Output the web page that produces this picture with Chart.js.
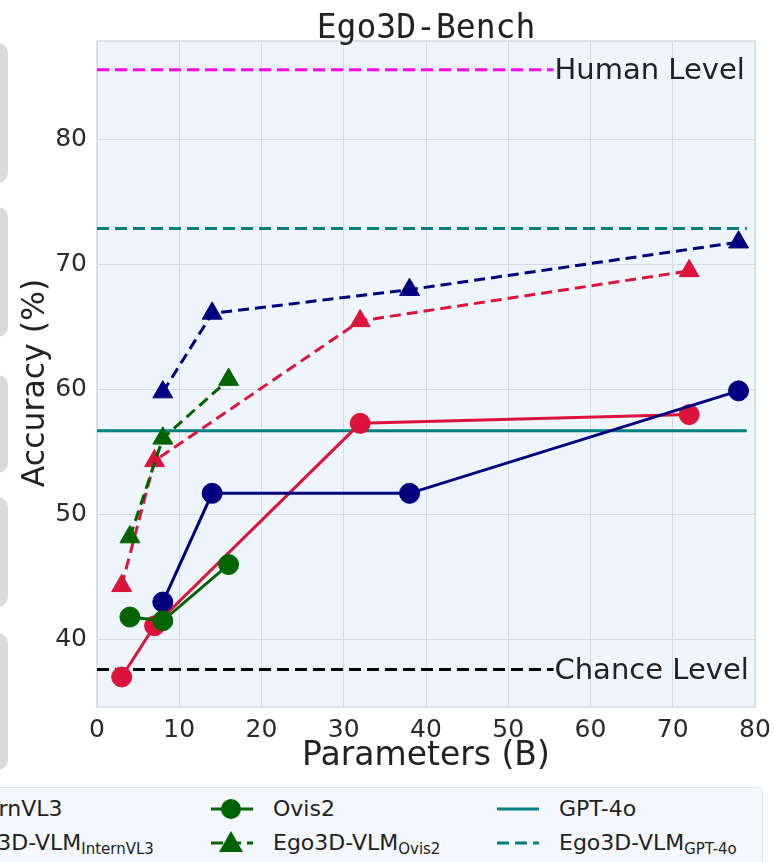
<!DOCTYPE html>
<html>
<head>
<meta charset="utf-8">
<script src="https://cdn.jsdelivr.net/npm/chart.js@4.4.1/dist/chart.umd.min.js"></script>
<style>
  html, body { margin: 0; padding: 0; background: #fff; overflow: hidden; }
  body { width: 774px; height: 862px; position: relative; font-family: "DejaVu Sans", sans-serif; }
  #wrap { position: absolute; left: 0; top: 0; width: 774px; height: 785px; }
  .panel { position: absolute; left: -14px; width: 22px; background: #dadada; border-radius: 10px; }
  #legend { position: absolute; left: -330px; top: 787px; width: 1091px; height: 110px;
            background: #f4f8fc; border: 1px solid #dde3ea; border-radius: 6px; }
  .item { position: absolute; height: 30px; line-height: 30px; font-size: 22px; color: #222; white-space: nowrap; }
  .item sub { font-size: 15px; vertical-align: -4px; line-height: 0; }
  .item svg { position: absolute; top: 0; }
</style>
</head>
<body>
<div class="panel" style="top:43px;height:140px"></div>
<div class="panel" style="top:207px;height:130px"></div>
<div class="panel" style="top:375px;height:98px"></div>
<div class="panel" style="top:497px;height:110px"></div>
<div class="panel" style="top:633px;height:137px"></div>
<div id="wrap"><canvas id="chart"></canvas></div>
<div id="legend"></div>
<script>
// tick labels
const xTicks = [0, 10, 20, 30, 40, 50, 60, 70, 80];
const yTicks = [40, 50, 60, 70, 80];

// model sizes (B) and accuracy (%)
const qwenSizes = [3, 7, 32, 72];
const qwenBase = [37.0, 41.1, 57.3, 58.0];
const qwenEgo = [44.3, 54.3, 65.5, 69.5];

const internSizes = [8, 14, 38, 78];
const internBase = [43.0, 51.7, 51.7, 59.9];
const internEgo = [59.8, 66.1, 68.0, 71.8];

const ovisSizes = [4, 8, 16];
const ovisBase = [41.8, 41.5, 46.0];
const ovisEgo = [48.2, 56.1, 60.8];

// reference levels
const gptSpan = [0, 79];
const gptBase = 56.7;
const gptEgo = 72.9;
const levelSpan = [0, 55.5];
const humanLevel = 85.6;
const chanceLevel = 37.6;

const RED = '#dc143c', BLUE = '#000080', GREEN = '#006400', TEAL = '#008080';

function pts(xs, ys) {
    return xs.map((x, i) => ({ x: x, y: ys[i] }));
}
function hline(span, y) {
    return span.map(x => ({ x: x, y: y }));
}

function series(label, xs, ys, color, dashed, marker) {
    return {
        label: label,
        data: pts(xs, ys),
        borderColor: color,
        backgroundColor: color,
        borderWidth: 3,
        borderDash: dashed ? [11, 6] : [],
        pointStyle: marker,
        pointRadius: marker === 'triangle' ? 11.5 : 10,
        pointBorderWidth: 1,
        pointBorderColor: color,
        pointBackgroundColor: color,
        tension: 0,
    };
}
function refLine(label, span, y, color, dashed) {
    return {
        label: label,
        data: hline(span, y),
        borderColor: color,
        borderWidth: 3,
        borderDash: dashed ? [12, 6] : [],
        pointRadius: 0,
    };
}

// first dataset is drawn on top
const datasets = [
    series('Ovis2', ovisSizes, ovisBase, GREEN, false, 'circle'),
    series('Ego3D-VLM Ovis2', ovisSizes, ovisEgo, GREEN, true, 'triangle'),
    series('InternVL3', internSizes, internBase, BLUE, false, 'circle'),
    series('Ego3D-VLM InternVL3', internSizes, internEgo, BLUE, true, 'triangle'),
    series('Qwen2.5-VL', qwenSizes, qwenBase, RED, false, 'circle'),
    series('Ego3D-VLM Qwen2.5-VL', qwenSizes, qwenEgo, RED, true, 'triangle'),
    refLine('GPT-4o', gptSpan, gptBase, TEAL, false),
    refLine('Ego3D-VLM GPT-4o', gptSpan, gptEgo, TEAL, true),
    refLine('Human Level', levelSpan, humanLevel, '#ff00ff', true),
    refLine('Chance Level', levelSpan, chanceLevel, '#000000', true),
];

const levelLabels = [
    { text: 'Human Level', x: levelSpan[1], y: humanLevel },
    { text: 'Chance Level', x: levelSpan[1], y: chanceLevel },
];

const plotDecor = {
    id: 'plotDecor',
    beforeDraw(chart) {
        const { ctx, chartArea: a } = chart;
        ctx.save();
        ctx.fillStyle = '#eef5fc';
        ctx.fillRect(a.left, a.top, a.right - a.left, a.bottom - a.top);
        ctx.restore();
    },
    beforeDatasetsDraw(chart) {
        const { ctx, chartArea: a } = chart;
        ctx.save();
        ctx.strokeStyle = '#d3dae2';
        ctx.lineWidth = 1.5;
        ctx.strokeRect(a.left, a.top, a.right - a.left, a.bottom - a.top);
        ctx.restore();
    },
    afterDatasetsDraw(chart) {
        const { ctx, chartArea: a, scales } = chart;
        ctx.save();
        ctx.fillStyle = '#222';
        ctx.textBaseline = 'middle';
        ctx.textAlign = 'left';
        ctx.font = '29px "DejaVu Sans"';
        levelLabels.forEach(l => {
            ctx.fillText(l.text, scales.x.getPixelForValue(l.x) + 1, scales.y.getPixelForValue(l.y) + 2);
        });
        ctx.textAlign = 'center';
        ctx.textBaseline = 'alphabetic';
        ctx.font = '33px "DejaVu Sans Mono"';
        ctx.fillText('Ego3D-Bench', (a.left + a.right) / 2, 38);
        // y axis title
        ctx.translate(36, (a.top + a.bottom) / 2 + 9);
        ctx.rotate(-Math.PI / 2);
        ctx.textBaseline = 'middle';
        ctx.font = '31.5px "DejaVu Sans"';
        ctx.fillText('Accuracy (%)', 0, 0);
        ctx.restore();
    }
};

new Chart(document.getElementById('chart').getContext('2d'), {
    type: 'line',
    data: { datasets: datasets },
    options: {
        responsive: true,
        maintainAspectRatio: false,
        animation: false,
        layout: { padding: { left: 0, right: 19, top: 41, bottom: 8 } },
        plugins: {
            legend: { display: false },
            tooltip: { enabled: false },
        },
        scales: {
            x: {
                type: 'linear',
                min: 0,
                max: 80,
                afterBuildTicks: s => { s.ticks = xTicks.map(v => ({ value: v })); },
                afterFit: s => { s.height = 70; s.paddingLeft = 0; s.paddingRight = 0; },
                grid: { color: '#d3dae2', drawTicks: false },
                border: { display: false },
                ticks: { color: '#2a2a2a', padding: 8, maxRotation: 0, font: { size: 25, family: 'DejaVu Sans' } },
                title: {
                    display: true, text: 'Parameters (B)', color: '#222',
                    font: { size: 33, family: 'DejaVu Sans' }, padding: { top: 0, bottom: 1 }
                },
            },
            y: {
                type: 'linear',
                min: 34.6,
                max: 87.9,
                afterBuildTicks: s => { s.ticks = yTicks.map(v => ({ value: v })); },
                afterFit: s => { s.width = 97; s.paddingTop = 0; s.paddingBottom = 0; },
                grid: { color: '#d3dae2', drawTicks: false },
                border: { display: false },
                ticks: { color: '#2a2a2a', padding: 10, font: { size: 25, family: 'DejaVu Sans' } },
            },
        },
    },
    plugins: [plotDecor],
});

// legend (cut off on the left like the reference)
const legendItems = [
    { name: 'InternVL3', sub: '', color: BLUE, dashed: false, marker: 'circle', col: 0, row: 0 },
    { name: 'Ego3D-VLM', sub: 'InternVL3', color: BLUE, dashed: true, marker: 'triangle', col: 0, row: 1 },
    { name: 'Ovis2', sub: '', color: GREEN, dashed: false, marker: 'circle', col: 1, row: 0 },
    { name: 'Ego3D-VLM', sub: 'Ovis2', color: GREEN, dashed: true, marker: 'triangle', col: 1, row: 1 },
    { name: 'GPT-4o', sub: '', color: TEAL, dashed: false, marker: '', col: 2, row: 0 },
    { name: 'Ego3D-VLM', sub: 'GPT-4o', color: TEAL, dashed: true, marker: '', col: 2, row: 1 },
];
const colText = [-45, 272, 558];
const rowMid = [808, 842];
const legendEl = document.getElementById('legend');
const legLeft = -330, legTop = 787;

legendItems.forEach(it => {
    const div = document.createElement('div');
    div.className = 'item';
    const tx = colText[it.col] - legLeft;
    div.style.left = (tx - 64) + 'px';
    div.style.top = (rowMid[it.row] - legTop - 15) + 'px';
    div.style.paddingLeft = '64px';
    let mark = '';
    if (it.marker === 'circle') mark = `<circle cx="22" cy="15" r="10" fill="${it.color}"/>`;
    if (it.marker === 'triangle') mark = `<polygon points="22,3 34,24 10,24" fill="${it.color}"/>`;
    const dash = it.dashed ? 'stroke-dasharray="12 6"' : '';
    div.innerHTML =
        `<svg width="46" height="30"><line x1="2" y1="15" x2="44" y2="15" stroke="${it.color}" stroke-width="3" ${dash}/>${mark}</svg>` +
        it.name + (it.sub ? `<sub>${it.sub}</sub>` : '');
    div.querySelector('svg').style.left = '0px';
    legendEl.appendChild(div);
});
</script>
</body>
</html>
